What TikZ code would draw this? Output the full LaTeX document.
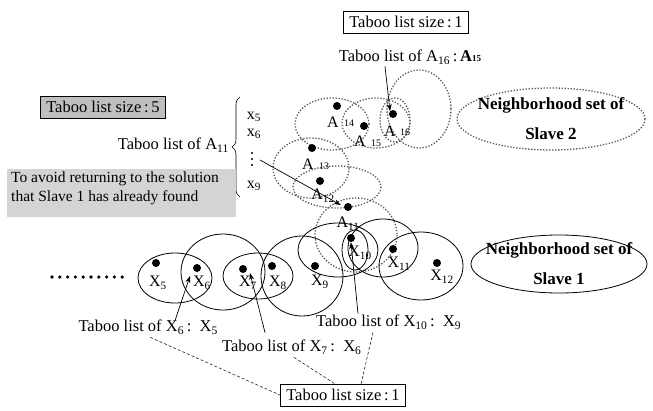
\documentclass[tikz,border=0pt]{standalone}
\usepackage{fontspec}
\setmainfont{Liberation Serif}
\usetikzlibrary{arrows.meta,calc,decorations.pathreplacing}

\tikzset{
  txt/.style={inner sep=1pt, font=\fontsize{16.5}{18}\selectfont},
  lbl/.style={inner sep=0pt, font=\fontsize{16}{18}\selectfont},
  nsub/.style={inner sep=0pt, font=\fontsize{10}{12}\selectfont},
  framed/.style={txt, draw, line width=0.6pt, inner xsep=6pt, inner ysep=5pt},
  caption/.style={inner sep=1pt, font=\fontsize{17}{19}\selectfont\bfseries},
  pt/.style={circle, fill=black, inner sep=0pt, minimum size=8pt},
  sol/.style={draw, line width=0.8pt},
  nbr/.style={draw, line width=1.3pt, black!65, dash pattern=on 1.3pt off 1.7pt},
  arr/.style={line width=0.7pt, -{Stealth[length=7pt,width=5pt]}},
  lead/.style={line width=0.5pt, dash pattern=on 3pt off 2pt}
}

\begin{document}
\begin{tikzpicture}[x=1pt,y=-1pt]
\useasboundingbox (0,0) rectangle (653,410);

% ---- neighbourhood of slave 2 (dotted) ----
\draw[nbr] (332,124) ellipse [x radius=37, y radius=26];
\draw[nbr] (376,123) ellipse [x radius=34, y radius=25];
\draw[nbr] (395,120) ellipse [x radius=15, y radius=22];
\draw[nbr] (419,109) ellipse [x radius=32, y radius=39];
\draw[nbr] (311,168) ellipse [x radius=38, y radius=30];
\draw[nbr] (337,187) ellipse [x radius=44, y radius=21];
\draw[nbr] (356,235) ellipse [x radius=41, y radius=37];

% ---- neighbourhood of slave 1 (solid) ----
\draw[sol] (175,278) ellipse [x radius=37, y radius=25];
\draw[sol] (223,272) ellipse [x radius=42, y radius=38];
\draw[sol] (258,276) ellipse [x radius=35, y radius=23];
\draw[sol] (302,276) ellipse [x radius=41, y radius=40];
\draw[sol] (338,250) ellipse [x radius=40, y radius=27];
\draw[sol] (355,250) ellipse [x radius=13, y radius=20];
\draw[sol] (383,248) ellipse [x radius=35, y radius=29];
\draw[sol] (421,266) ellipse [x radius=42, y radius=34];

% ---- solutions of slave 2 ----
\node[pt] (a11) at (348,207) {};
\node[pt] (a12) at (320,181) {};
\node[pt] (a13) at (312,148) {};
\node[pt] (a14) at (337,106) {};
\node[pt] (a15) at (364,126) {};
\node[pt] (a16) at (393,114) {};
\node[lbl] (ta11) at (348,224) {A\textsubscript{11}};
\node[lbl] (ta12) at (323,196) {A\textsubscript{12}};
\node[lbl] (ta13) at (308,164) {A};
\node[nsub] (ta13n) at (324,166) {13};
\node[lbl] (ta14) at (333,122) {A};
\node[nsub] (ta14n) at (349,123) {14};
\node[lbl] (ta15) at (360,141) {A};
\node[nsub] (ta15n) at (376,143) {15};
\node[lbl] (ta16) at (390,131) {A};
\node[nsub] (ta16n) at (405,132) {16};

% ---- solutions of slave 1 ----
\node[pt] (x5) at (156,263) {};
\node[pt] (x6) at (197,268) {};
\node[pt] (x7) at (243,269) {};
\node[pt] (x8) at (272,266) {};
\node[pt] (x9) at (315,266) {};
\node[pt] (x10) at (351,238) {};
\node[pt] (x11) at (393,249) {};
\node[pt] (x12) at (437,263) {};
\node[lbl] (tx5) at (158,283) {X\textsubscript{5}};
\node[lbl] (tx6) at (202,283) {X\textsubscript{6}};
\node[lbl] (tx7) at (248,283) {X\textsubscript{7}};
\node[lbl] (tx8) at (278,283) {X\textsubscript{8}};
\node[lbl] (tx9) at (320,282) {X\textsubscript{9}};
\node[lbl] (tx10) at (360,253) {X\textsubscript{10}};
\node[lbl] (tx11) at (399,264) {X\textsubscript{11}};
\node[lbl] (tx12) at (442,277) {X\textsubscript{12}};

% leading dots of the slave-1 chain
\foreach \i in {0,...,9} \fill (52+7.8*\i,277) circle (1.8);

% ---- neighbourhood captions ----
\draw[nbr] (551,119) ellipse [x radius=94, y radius=31];
\node[caption] (n2a) at (551,105) {Neighborhood set of};
\node[caption] (n2b) at (551,134) {Slave 2};
\draw[sol] (559,264) ellipse [x radius=88, y radius=29];
\node[caption] (n1a) at (559,250) {Neighborhood set of};
\node[caption] (n1b) at (559,279) {Slave 1};

% ---- taboo list of A16 ----
\node[framed] (sz1) at (406,22) {Taboo list size\,:\,1};
\node[txt] (la16) at (410,57) {Taboo list of A\textsubscript{16}\,:\,\textbf{A{\small 15}}};
\draw[arr] ($(la16.south)+(-25,1)$) -- (a16.north west);

% ---- taboo list of A11 ----
\node[framed, fill=black!25] (sz5) at (103,107) {Taboo list size\,:\,5};
\node[txt, anchor=east] (la11) at (230,145) {Taboo list of A\textsubscript{11}};
\draw[line width=0.6pt, decorate, decoration={brace, amplitude=8pt}]
  (240,197) -- (240,97);
\node[lbl] (i5) at (254,117) {x\textsubscript{5}};
\node[lbl] (i6) at (254,134) {x\textsubscript{6}};
\coordinate (i7) at (252,159);
\foreach \d in {-6,0,6} \fill ($(i7)+(0,\d)$) circle (1.1);
\node[lbl] (i9) at (254,186) {x\textsubscript{9}};
\draw[arr] ($(i7)+(8,1)$) -- ($(a11.west)+(-3,-2)$);

\node[fill=black!17, inner sep=0pt, anchor=north west,
      minimum width=229pt, minimum height=48pt] (note) at (7,169) {};
\node[txt, anchor=north west, align=left, font=\fontsize{15.5}{19}\selectfont]
  (notetext) at (10,171) {To avoid returning to the solution\\that Slave 1 has already found};

% ---- taboo lists of slave 1 ----
\node[txt, anchor=east] (lx6) at (219,327) {Taboo list of X\textsubscript{6}\,:\, X\textsubscript{5}};
\node[txt, anchor=west] (lx7) at (221,347) {Taboo list of X\textsubscript{7}\,:\, X\textsubscript{6}};
\node[txt, anchor=west] (lx10) at (315,322) {Taboo list of X\textsubscript{10}\,:\, X\textsubscript{9}};
\draw[arr] ($(lx6.north east)+(-44,2)$) -- ($(x6)+(-7,8)$);
\draw[arr] ($(lx7.north west)+(44,-6)$) -- ($(x7)+(7,4)$);
\draw[arr] ($(lx10.north west)+(43,0)$) -- (x10.south);

\node[framed] (sz1b) at (343,395) {Taboo list size\,:\,1};
\draw[lead] ($(lx6.south west)+(73,2)$) -- (sz1b.west);
\draw[lead] ($(lx7.south west)+(73,2)$) -- ($(sz1b.north)+(-8,0)$);
\draw[lead] ($(lx10.south west)+(58,2)$) -- ($(sz1b.north)+(18,0)$);
\end{tikzpicture}
\end{document}
